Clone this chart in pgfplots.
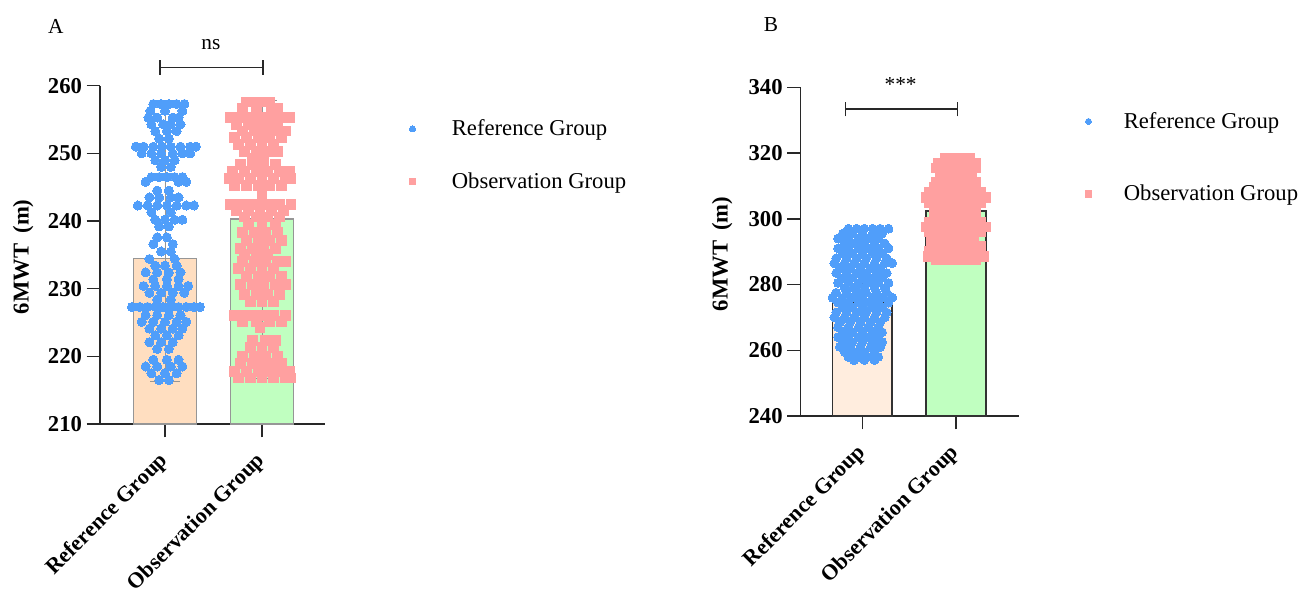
\documentclass[border=0pt]{standalone}
\usepackage{fontspec}
\setmainfont{Liberation Serif}
\usepackage{pgfplots}
\pgfplotsset{compat=1.18}
\definecolor{blueA}{RGB}{80,158,250}
\definecolor{pinkA}{RGB}{255,160,160}
\definecolor{barAone}{RGB}{255,222,192}
\definecolor{barAtwo}{RGB}{192,255,192}
\definecolor{barBone}{RGB}{255,237,222}
\definecolor{barBtwo}{RGB}{192,255,192}
\definecolor{edgeA}{RGB}{150,150,150}
\definecolor{edgeB}{RGB}{50,50,50}
\definecolor{axcol}{RGB}{40,40,40}
\pgfplotsset{mystyle/.style={
  scale only axis,
  clip mode=individual,
  axis x line*=bottom, axis y line*=left,
  axis line style={line width=1.1pt, draw=axcol},
  tick align=outside,
  major tick length=10pt,
  tick style={line width=1.1pt, draw=axcol},
  xtick={0,100},
  xticklabels={Reference Group, Observation Group},
  xticklabel style={rotate=45, anchor=east, xshift=-7.4pt, yshift=-10.6pt, font=\fontsize{16.5}{18}\selectfont\bfseries},
  yticklabel style={font=\fontsize{17}{19}\selectfont\bfseries},
  /pgf/number format/assume math mode=true,
  ylabel={6MWT\hspace{0.45em}(m)},
  ylabel style={font=\fontsize{17}{19}\selectfont\bfseries, anchor=center},
  legend cell align=left,
  legend image code/.code={\draw[##1] plot coordinates {(0pt,0pt)};},
}}
\begin{document}
\begin{tikzpicture}
\path[use as bounding box] (0,0) rectangle (975.75pt,444pt);
% ---------------- Panel A ----------------
\begin{axis}[mystyle,
  at={(75pt,126pt)}, anchor=south west,
  width=168.75pt, height=253.7pt,
  xmin=-67, xmax=165, ymin=210, ymax=260,
  ytick={210,220,230,240,250,260},
  ylabel style={at={(axis description cs:-0.342,0.494)}},
  legend style={at={(axis description cs:1.373,0.795)}, anchor=west, draw=none, fill=none, inner sep=0pt, font=\fontsize{17}{20}\selectfont, column sep=25pt, row sep=22pt},
]
\addplot[ybar, bar width=65, bar shift=0pt, fill=barAone, draw=edgeA, line width=1.1pt, forget plot,
  error bars/.cd, y dir=both, y explicit, error mark options={rotate=90, mark size=11pt, line width=1.1pt, edgeA}]
  coordinates {(0,234.5) += (0,23.0) -= (0,18.2)};
\addplot[ybar, bar width=65, bar shift=0pt, fill=barAtwo, draw=edgeA, line width=1.1pt, forget plot,
  error bars/.cd, y dir=both, y explicit, error mark options={rotate=90, mark size=11pt, line width=1.1pt, edgeA}]
  coordinates {(100,240.3) += (0,17.5) -= (0,23.6)};
\addplot[only marks, mark=*, mark size=3.4pt, mark options={fill=blueA, draw=blueA, line width=0pt}, forget plot]
 table[row sep=\\]{x y\\
 -12 257.3\\ -4 257.3\\ 4 257.3\\ 12 257.3\\ 20 257.3\\
 -15 256.3\\ 0 256.3\\ 18 256.3\\
 -17 255.3\\ -8 255.3\\ 8 255.3\\ 14 255.3\\
 -14 254.3\\ -2 254.3\\ 6 254.3\\ 16 254.3\\
 -10 253.3\\ 2 253.3\\ 12 253.3\\
 -6 252.2\\ 4 252.2\\
 -30 251\\ -22 251\\ -12 251\\ -3 251\\ 6 251\\ 16 251\\ 26 251\\ 32 251\\
 -24 250\\ -14 250\\ -4 250\\ 8 250\\ 18 250\\ 26 250\\
 -10 249\\ 0 249\\ 10 249\\
 -4 248\\ 6 248\\
 -14 246.5\\ -6 246.5\\ 2 246.5\\ 10 246.5\\ 18 246.5\\
 -20 245.8\\ 14 245.8\\ 22 245.8\\
 -8 244.5\\ 4 244.5\\
 -16 243.5\\ -6 243.5\\ 6 243.5\\ 14 243.5\\
 -28 242.3\\ -18 242.3\\ -8 242.3\\ 2 242.3\\ 12 242.3\\ 22 242.3\\ 30 242.3\\
 -14 241.3\\ 6 241.3\\
 -10 240.2\\ 0 240.2\\ 10 240.2\\ 18 240.2\\
 -6 239.2\\ 4 239.2\\
 -8 237.6\\ 2 237.6\\
 -12 236.6\\ 8 236.6\\
 -4 235.5\\ 6 235.5\\
 -16 234.4\\ 10 234.4\\
 -10 233.4\\ 0 233.4\\ 12 233.4\\
 -20 232.4\\ -8 232.4\\ 4 232.4\\ 16 232.4\\
 -12 231.4\\ 2 231.4\\ 14 231.4\\
 -22 230.4\\ -10 230.4\\ 2 230.4\\ 14 230.4\\ 24 230.4\\
 -16 229.4\\ -4 229.4\\ 8 229.4\\ 20 229.4\\
 -8 228.4\\ 6 228.4\\
 -34 227.3\\ -26 227.3\\ -18 227.3\\ -10 227.3\\ -2 227.3\\ 6 227.3\\ 14 227.3\\ 22 227.3\\ 30 227.3\\ 36 227.3\\
 -20 226.1\\ -8 226.1\\ 4 226.1\\ 16 226.1\\
 -24 225.1\\ -12 225.1\\ 0 225.1\\ 12 225.1\\ 22 225.1\\
 -16 224.1\\ -4 224.1\\ 8 224.1\\ 18 224.1\\
 -10 223.1\\ 2 223.1\\ 14 223.1\\
 -16 222.1\\ -4 222.1\\ 8 222.1\\
 -8 221.1\\ 4 221.1\\
 -12 219.5\\ 2 219.5\\ 14 219.5\\
 -20 218.5\\ -8 218.5\\ 6 218.5\\ 18 218.5\\
 -14 217.5\\ 0 217.5\\ 12 217.5\\
 -6 216.5\\ 4 216.5\\
 };
\addplot[only marks, mark=square*, mark size=3.7pt, mark options={fill=pinkA, draw=pinkA, line width=0pt}, forget plot]
 table[row sep=\\]{x y\\
 84 257.6\\ 92 257.6\\ 100 257.6\\ 108 257.6\\
 80 256.6\\ 94 256.6\\ 110 256.6\\ 116 256.6\\
 68 255.3\\ 78 255.3\\ 88 255.3\\ 98 255.3\\ 108 255.3\\ 118 255.3\\ 128 255.3\\
 74 254.3\\ 86 254.3\\ 96 254.3\\ 106 254.3\\ 116 254.3\\
 80 253.3\\ 92 253.3\\ 104 253.3\\ 114 253.3\\ 124 253.3\\
 72 252.3\\ 84 252.3\\ 96 252.3\\ 108 252.3\\ 120 252.3\\
 76 251.3\\ 88 251.3\\ 100 251.3\\ 112 251.3\\
 82 250.3\\ 94 250.3\\ 106 250.3\\ 116 250.3\\
 90 249.3\\ 102 249.3\\
 78 248.3\\ 90 248.3\\ 102 248.3\\ 114 248.3\\
 70 247.3\\ 82 247.3\\ 94 247.3\\ 106 247.3\\ 118 247.3\\ 128 247.3\\
 66 246.3\\ 76 246.3\\ 88 246.3\\ 100 246.3\\ 112 246.3\\ 124 246.3\\ 130 246.3\\
 72 245.3\\ 84 245.3\\ 96 245.3\\ 108 245.3\\ 120 245.3\\
 100 243.9\\
 67 242.5\\ 78 242.5\\ 88 242.5\\ 98 242.5\\ 108 242.5\\ 118 242.5\\ 130 242.5\\
 74 241.6\\ 86 241.6\\ 98 241.6\\ 110 241.6\\ 122 241.6\\
 82 240.6\\ 94 240.6\\ 106 240.6\\ 118 240.6\\
 86 239.5\\ 100 239.5\\ 114 239.5\\
 80 238.3\\ 92 238.3\\ 104 238.3\\ 116 238.3\\
 84 237.1\\ 96 237.1\\ 108 237.1\\ 120 237.1\\
 78 236\\ 90 236\\ 102 236\\ 114 236\\
 82 235\\ 94 235\\ 106 235\\
 80 234\\ 92 234\\ 104 234\\ 116 234\\ 124 234\\
 76 233\\ 88 233\\ 100 233\\ 112 233\\
 84 231.8\\ 96 231.8\\ 108 231.8\\ 120 231.8\\
 78 230.6\\ 90 230.6\\ 102 230.6\\ 114 230.6\\ 124 230.6\\
 82 229.2\\ 94 229.2\\ 106 229.2\\ 118 229.2\\
 88 228.1\\ 100 228.1\\ 112 228.1\\
 72 226.1\\ 82 226.1\\ 92 226.1\\ 102 226.1\\ 112 226.1\\ 124 226.1\\
 80 225.2\\ 94 225.2\\ 108 225.2\\ 120 225.2\\
 98 224.3\\
 90 222.4\\ 104 222.4\\ 114 222.4\\
 88 221.3\\ 100 221.3\\ 112 221.3\\
 80 220\\ 92 220\\ 104 220\\ 116 220\\
 78 218.9\\ 90 218.9\\ 102 218.9\\ 112 218.9\\ 120 218.9\\
 72 217.8\\ 84 217.8\\ 96 217.8\\ 108 217.8\\ 118 217.8\\ 128 217.8\\
 76 216.8\\ 88 216.8\\ 100 216.8\\ 112 216.8\\ 124 216.8\\ 130 216.8\\
 };
\addlegendimage{only marks, mark=*, mark size=2.3pt, mark options={fill=blueA, draw=blueA, line width=0pt}}
\addlegendentry{Reference Group}
\addlegendimage{only marks, mark=square*, mark size=2.5pt, mark options={fill=pinkA, draw=pinkA, line width=0pt}}
\addlegendentry{Observation Group}
\draw[line width=1pt, axcol] (axis cs:-5,262.7) -- (axis cs:101,262.7);
\draw[line width=1pt, axcol] (axis cs:-5,261.6) -- (axis cs:-5,263.8);
\draw[line width=1pt, axcol] (axis cs:101,261.6) -- (axis cs:101,263.8);
\node[font=\fontsize{16}{18}\selectfont] at (axis cs:47.4,266.1) {ns};
\end{axis}
% ---------------- Panel B ----------------
\begin{axis}[mystyle,
  at={(600.5pt,132pt)}, anchor=south west,
  width=163.7pt, height=246.5pt,
  xmin=-66, xmax=167.4, ymin=240, ymax=340,
  ytick={240,260,280,300,320,340},
  ylabel style={at={(axis description cs:-0.36,0.493)}},
  legend style={at={(axis description cs:1.302,0.786)}, anchor=west, draw=none, fill=none, inner sep=0pt, font=\fontsize{17}{20}\selectfont, column sep=22pt, row sep=37pt},
]
\addplot[ybar, bar width=64, bar shift=0pt, fill=barBone, draw=edgeB, line width=1.3pt, forget plot,
  error bars/.cd, y dir=both, y explicit, error mark options={rotate=90, mark size=10pt, line width=1.2pt, edgeB}]
  coordinates {(0,274.6) += (0,22.6) -= (0,17.6)};
\addplot[ybar, bar width=64, bar shift=0pt, fill=barBtwo, draw=edgeB, line width=1.3pt, forget plot,
  error bars/.cd, y dir=both, y explicit, error mark options={rotate=90, mark size=10pt, line width=1.2pt, edgeB}]
  coordinates {(100,302.4) += (0,16.2) -= (0,15.0)};
\addplot[only marks, mark=*, mark size=3.3pt, mark options={fill=blueA, draw=blueA, line width=0pt}, forget plot]
 table[row sep=\\]{x y\\
 -15 297\\ -6 297\\ 2 297\\ 11 297\\ 19 297\\ 28 297\\
 -21 295.5\\ -11 295.5\\ 0 295.5\\ 11 295.5\\ 21 295.5\\
 -26 294\\ -15 294\\ -4 294\\ 6 294\\ 17 294\\
 -19 292.5\\ -9 292.5\\ 2 292.5\\ 13 292.5\\ 24 292.5\\
 -26 291\\ -15 291\\ -4 291\\ 6 291\\ 17 291\\ 28 291\\
 -21 289.5\\ -11 289.5\\ 0 289.5\\ 11 289.5\\ 21 289.5\\
 -28 288\\ -17 288\\ -6 288\\ 4 288\\ 15 288\\ 26 288\\
 -30 286.5\\ -19 286.5\\ -9 286.5\\ 2 286.5\\ 13 286.5\\ 24 286.5\\ 32 286.5\\
 -24 285\\ -13 285\\ -2 285\\ 9 285\\ 19 285\\
 -28 283.5\\ -17 283.5\\ -6 283.5\\ 4 283.5\\ 15 283.5\\ 26 283.5\\
 -21 282\\ -11 282\\ 0 282\\ 11 282\\ 21 282\\
 -26 280.5\\ -15 280.5\\ -4 280.5\\ 6 280.5\\ 17 280.5\\ 28 280.5\\
 -19 279\\ -9 279\\ 2 279\\ 13 279\\ 24 279\\
 -28 277.5\\ -17 277.5\\ -6 277.5\\ 4 277.5\\ 15 277.5\\ 26 277.5\\
 -32 276\\ -21 276\\ -11 276\\ 0 276\\ 11 276\\ 21 276\\ 32 276\\
 -26 274.5\\ -15 274.5\\ -4 274.5\\ 6 274.5\\ 17 274.5\\ 28 274.5\\
 -21 273\\ -11 273\\ 0 273\\ 11 273\\ 21 273\\
 -28 271.5\\ -17 271.5\\ -6 271.5\\ 4 271.5\\ 15 271.5\\ 26 271.5\\
 -30 270\\ -19 270\\ -9 270\\ 2 270\\ 13 270\\ 24 270\\
 -24 268.5\\ -13 268.5\\ -2 268.5\\ 9 268.5\\ 19 268.5\\
 -26 267\\ -15 267\\ -4 267\\ 6 267\\ 17 267\\
 -21 265.5\\ -11 265.5\\ 0 265.5\\ 11 265.5\\ 21 265.5\\
 -26 264\\ -15 264\\ -4 264\\ 6 264\\ 17 264\\
 -21 262.5\\ -11 262.5\\ 0 262.5\\ 11 262.5\\ 21 262.5\\
 -24 261\\ -13 261\\ -2 261\\ 9 261\\ 19 261\\
 -19 259.5\\ -9 259.5\\ 2 259.5\\ 13 259.5\\
 -15 258\\ -4 258\\ 6 258\\ 17 258\\
 -9 257\\ 2 257\\ 13 257\\
 };
\addplot[only marks, mark=square*, mark size=3.6pt, mark options={fill=pinkA, draw=pinkA, line width=0pt}, forget plot]
 table[row sep=\\]{x y\\
 89 318.5\\ 98 318.5\\ 106 318.5\\ 115 318.5\\
 81 317\\ 91 317\\ 102 317\\ 113 317\\ 121 317\\
 79 315.5\\ 89 315.5\\ 100 315.5\\ 111 315.5\\ 121 315.5\\
 83 314\\ 94 314\\ 104 314\\ 115 314\\
 85 312.5\\ 96 312.5\\ 106 312.5\\ 117 312.5\\
 79 311\\ 89 311\\ 100 311\\ 111 311\\ 121 311\\
 77 309.5\\ 87 309.5\\ 98 309.5\\ 109 309.5\\ 119 309.5\\
 72 308\\ 83 308\\ 94 308\\ 104 308\\ 115 308\\ 126 308\\
 68 306.5\\ 79 306.5\\ 89 306.5\\ 100 306.5\\ 111 306.5\\ 121 306.5\\ 132 306.5\\
 72 305\\ 83 305\\ 94 305\\ 104 305\\ 115 305\\ 126 305\\
 77 303.5\\ 87 303.5\\ 98 303.5\\ 109 303.5\\ 119 303.5\\
 79 302\\ 89 302\\ 100 302\\ 111 302\\ 121 302\\
 77 300.5\\ 87 300.5\\ 98 300.5\\ 109 300.5\\ 119 300.5\\
 72 299\\ 83 299\\ 94 299\\ 104 299\\ 115 299\\ 126 299\\
 68 297.5\\ 79 297.5\\ 89 297.5\\ 100 297.5\\ 111 297.5\\ 121 297.5\\ 132 297.5\\
 72 296\\ 83 296\\ 94 296\\ 104 296\\ 115 296\\ 126 296\\
 74 294.5\\ 85 294.5\\ 96 294.5\\ 106 294.5\\ 117 294.5\\
 77 293\\ 87 293\\ 98 293\\ 109 293\\ 119 293\\
 74 291.5\\ 85 291.5\\ 96 291.5\\ 106 291.5\\ 117 291.5\\ 126 291.5\\
 72 290\\ 83 290\\ 94 290\\ 104 290\\ 115 290\\ 126 290\\
 70 288.5\\ 81 288.5\\ 91 288.5\\ 102 288.5\\ 113 288.5\\ 124 288.5\\ 130 288.5\\
 79 287.5\\ 89 287.5\\ 100 287.5\\ 111 287.5\\ 121 287.5\\
 };
\addlegendimage{only marks, mark=*, mark size=2.3pt, mark options={fill=blueA, draw=blueA, line width=0pt}}
\addlegendentry{Reference Group}
\addlegendimage{only marks, mark=square*, mark size=2.5pt, mark options={fill=pinkA, draw=pinkA, line width=0pt}}
\addlegendentry{Observation Group}
\draw[line width=1pt, axcol] (axis cs:-18,333.4) -- (axis cs:101.4,333.4);
\draw[line width=1pt, axcol] (axis cs:-18,331.2) -- (axis cs:-18,335.4);
\draw[line width=1pt, axcol] (axis cs:101.4,331.2) -- (axis cs:101.4,335.4);
\node[font=\fontsize{16}{18}\selectfont] at (axis cs:40.9,341) {***};
\end{axis}
\node[font=\fontsize{16}{18}\selectfont] at (41.9pt,424.5pt) {A};
\node[font=\fontsize{16}{18}\selectfont] at (578.25pt,425.25pt) {B};
\end{tikzpicture}
\end{document}
